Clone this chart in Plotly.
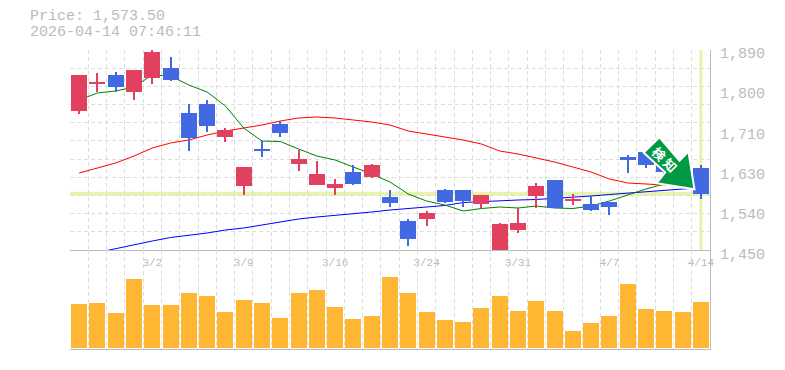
import plotly.graph_objects as go

DATES = ["2/24","2/25","2/26","2/27","3/2","3/3","3/4","3/5","3/6","3/9","3/10","3/11","3/12","3/13","3/16","3/17","3/18","3/19",
         "3/23","3/24","3/25","3/26","3/27","3/30","3/31","4/1","4/2","4/3","4/6","4/7","4/8","4/9","4/10","4/13","4/14"]
OPEN = [1755.8,1815.2,1835,1797.6,1828.4,1850.4,1751.4,1771.2,1698.6,1590.8,1672.2,1727.2,1639.2,1593,1586.4,1621.6,1610.6,1566.6,
        1513.8,1518.2,1582,1582,1551.2,1447.8,1494,1568.8,1604,1557.8,1551.2,1555.6,1654.6,1665.6,1652.4,1630.4,1630.4]
HIGH = [1835,1839.4,1841.6,1846,1890,1874.6,1771.2,1780,1718.4,1632.6,1689.8,1733.8,1670,1645.8,1606.2,1637,1639.2,1582,
        1518.2,1535.8,1584.2,1582,1571,1509.4,1542.4,1597.4,1604,1573.2,1568.8,1555.6,1659,1665.6,1656.8,1634.8,1637]
LOW = [1749.2,1797.6,1797.6,1780,1815.2,1821.8,1667.8,1709.6,1687.6,1571,1654.6,1698.6,1623.8,1593,1571,1593,1608.4,1544.6,
       1458.8,1502.8,1553.4,1544.6,1542.4,1447.8,1487.4,1542.4,1542.4,1549,1535.8,1527,1619.4,1630.4,1612.8,1599.6,1562.2]
CLOSE = [1835,1819.6,1808.6,1846,1885.6,1824,1696.4,1722.8,1714,1632.6,1667.8,1707.4,1650.2,1617.2,1595.2,1595.2,1637,1553.4,
         1474.2,1531.4,1555.6,1557.8,1571,1507.2,1509.4,1590.8,1542.4,1562.2,1538,1544.6,1648,1637,1621.6,1604,1573.5]
MA_GREEN = [1780,1795.4,1799.8,1808.6,1835,1832.8,1813,1797.6,1766.8,1718.4,1689.8,1688.7,1672.2,1656.8,1648,1632.6,1617.2,1599.6,
            1573.2,1557.8,1549,1535.8,1541.3,1544.6,1542.4,1546.8,1542.4,1541.3,1546.8,1557.8,1571,1584.2,1595.2,1604,1608.4]
MA_RED = [1619.4,1630.4,1641.4,1656.8,1674.4,1685.4,1692,1703,1711.8,1718.4,1725,1733.8,1740.4,1742.6,1740.4,1736,1731.6,1725,
          1711.8,1705.2,1698.6,1692,1683.2,1667.8,1661.2,1652.4,1643.6,1632.6,1621.6,1606.2,1597.4,1595.2,1593,1588.6,1586.4]
MA_BLUE = [None,1444.5,1453.3,1461,1469.8,1477.5,1481.9,1487.4,1494,1498.4,1505,1511.6,1518.2,1522.6,1525.9,1530.3,1533.6,1538,
           1541.3,1543.5,1547.9,1554.5,1556.7,1558.9,1560,1561.1,1563.3,1565.5,1568.8,1572.1,1575.4,1578.7,1580.9,1584.2,1586.4]
VOLUME = [44,45,35,69,43,43,55,52,36,48,45,30,55,58,41,29,32,71,
          55,36,28,26,40,52,37,47,37,17,25,32,64,39,37,36,46]
X_LABELS = ["3/2","3/9","3/16","3/24","3/31","4/7","4/14"]
PRICE_LABELS = [("1,890",1890),("1,800",1802),("1,710",1714),("1,630",1626),("1,540",1538),("1,450",1450)]
LAST_PRICE = 1573.5
HEADER = ["Price: 1,573.50","2026-04-14 07:46:11"]
ALERT_TEXT = "検 知"

W, H = 785, 370
L, R, T, M, B = 70, 710, 50, 250, 349
GRID = "#dddddd"
AXIS = "#bbbbbb"
TXT = "#bbbbbb"
MONO = "Liberation Mono"
DASH = "4px,3px"
UP = "#e2405f"
DOWN = "#4169e1"
N = len(DATES)
xs = list(range(N))
xrange = [-0.5, N - 0.5]
yrange = [1450, 1890]
boundaries = [i - 0.5 for i in range(N + 1)]
colors = [UP if c >= o else DOWN for o, c in zip(OPEN, CLOSE)]

fig = go.Figure()
for vals, col in [(MA_BLUE, "#0000ff"), (MA_RED, "#ff0000"), (MA_GREEN, "#008000")]:
    fig.add_trace(go.Scatter(x=xs, y=vals, mode="lines", line=dict(color=col, width=1), xaxis="x", yaxis="y",
                             showlegend=False, hoverinfo="skip"))
fig.add_trace(go.Bar(x=xs, y=VOLUME, width=0.875, marker=dict(color="#ffb733", line=dict(width=0)),
                     xaxis="x2", yaxis="y2", showlegend=False, hoverinfo="skip"))
fig.add_trace(go.Bar(x=xs, y=[h - l for h, l in zip(HIGH, LOW)], base=LOW, width=1 / 18.29,
                     marker=dict(color=colors, line=dict(width=0)), xaxis="x3", yaxis="y3",
                     showlegend=False, hoverinfo="skip"))
fig.add_trace(go.Bar(x=xs, y=[abs(c - o) for o, c in zip(OPEN, CLOSE)], base=[min(o, c) for o, c in zip(OPEN, CLOSE)],
                     width=0.875, marker=dict(color=colors, line=dict(width=0)), xaxis="x3", yaxis="y3",
                     showlegend=False, hoverinfo="skip"))

shapes = [
    dict(type="line", xref="x", yref="y", x0=xrange[0], x1=xrange[1], y0=LAST_PRICE, y1=LAST_PRICE,
         line=dict(color="#e6f5a8", width=4), layer="below"),
    dict(type="line", xref="x", yref="y", x0=N - 1, x1=N - 1, y0=yrange[0], y1=yrange[1],
         line=dict(color="#e6f5a8", width=3), layer="below"),
    dict(type="path", xref="x", yref="y", xsizemode="pixel", ysizemode="pixel", xanchor=N - 1, yanchor=LAST_PRICE,
         path="M -41.4 56.6 L -57.1 41.2 L -35.7 21.6 L -44.1 10.6 L -6.4 4.6 L -12.4 42.2 L -21.4 33.2 Z",
         fillcolor="#009944", line=dict(color="#ffffff", width=2), layer="above"),
]

annotations = []
for i, t in enumerate(HEADER):
    annotations.append(dict(x=30 / W, y=1 - (17 + 16 * i) / H, xref="paper", yref="paper", text=t, showarrow=False,
                            xanchor="left", yanchor="middle", xshift=-2, font=dict(family=MONO, size=15, color=TXT)))
for t, v in PRICE_LABELS:
    annotations.append(dict(x=1, xref="x domain", y=v, yref="y", text=t, showarrow=False, xanchor="left",
                            yanchor="middle", xshift=8, yshift=-5, font=dict(family=MONO, size=15, color=TXT)))
annotations.append(dict(x=N - 1, y=LAST_PRICE, xref="x", yref="y", text="<b>" + ALERT_TEXT + "</b>", showarrow=False,
                        textangle=45, xshift=-35.9, yshift=33.9,
                        font=dict(family="Noto Sans CJK JP", size=13, color="#ffffff")))

fig.update_layout(
    width=W, height=H, margin=dict(l=0, r=0, t=0, b=0, pad=0, autoexpand=False),
    paper_bgcolor="#ffffff", plot_bgcolor="#ffffff", barmode="overlay", bargap=0,
    shapes=shapes, annotations=annotations, showlegend=False,
    xaxis=dict(domain=[L / W, R / W], range=xrange, anchor="y", showline=True, linecolor=AXIS, linewidth=1,
               tickmode="array", tickvals=[DATES.index(d) for d in X_LABELS], ticktext=X_LABELS, ticks="", showgrid=False,
               zeroline=False, tickfont=dict(family=MONO, size=11, color=TXT), ticklabelstandoff=2,
               automargin=False,
               minor=dict(tickmode="array", tickvals=boundaries, showgrid=True, gridcolor=GRID, gridwidth=1,
                          griddash=DASH, ticks="")),
    yaxis=dict(domain=[1 - M / H, 1 - T / H], range=yrange, anchor="x", side="right", showline=True, linecolor=AXIS,
               linewidth=1, tickmode="array", tickvals=[1890 - 40 * k for k in range(12)], showticklabels=False, ticks="",
               showgrid=True, gridcolor=GRID, griddash=DASH, gridwidth=1, zeroline=False),
    xaxis2=dict(domain=[L / W, R / W], range=xrange, anchor="y2", showline=True, linecolor=AXIS, linewidth=1,
                tickmode="array", tickvals=[], showticklabels=False, ticks="", showgrid=False, zeroline=False,
                minor=dict(tickmode="array", tickvals=boundaries, showgrid=True, gridcolor=GRID, gridwidth=1,
                           griddash=DASH, ticks="")),
    yaxis2=dict(domain=[1 - B / H, 1 - M / H], range=[-1, 98], anchor="x2", side="right", showline=True, linecolor=AXIS,
                linewidth=1, showticklabels=False, ticks="", showgrid=False, zeroline=False),
    xaxis3=dict(overlaying="x", range=xrange, anchor="y3", visible=False),
    yaxis3=dict(overlaying="y", range=yrange, anchor="x3", visible=False),
)

fig.write_html("out.html", config=dict(displayModeBar=False),
               post_script="document.body.style.margin='0';document.body.style.overflow='hidden';")
